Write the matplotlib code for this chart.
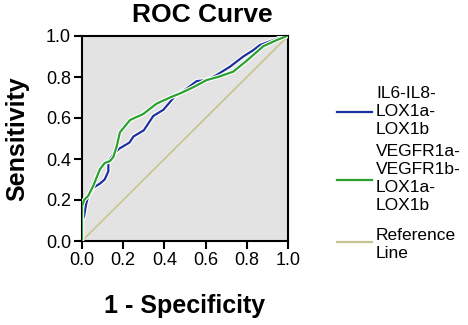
import matplotlib
matplotlib.use("Agg")
import matplotlib.pyplot as plt
import matplotlib.patheffects as pe
from matplotlib.lines import Line2D

plt.rcParams["font.family"] = ["Liberation Sans", "DejaVu Sans"]

# ROC points
fpr_il6 = [0.0, 0.0, 0.01, 0.02, 0.03, 0.055, 0.087, 0.11, 0.128, 0.128, 0.15, 0.18,
           0.23, 0.25, 0.30, 0.346, 0.395, 0.45, 0.51, 0.557, 0.605, 0.654, 0.718,
           0.783, 0.83, 0.864, 0.929, 0.985, 1.0]
tpr_il6 = [0.0, 0.10, 0.12, 0.18, 0.22, 0.26, 0.28, 0.30, 0.34, 0.39, 0.42, 0.45,
           0.48, 0.51, 0.54, 0.61, 0.64, 0.705, 0.745, 0.78, 0.785, 0.81, 0.85,
           0.90, 0.93, 0.956, 0.98, 1.0, 1.0]

fpr_vegf = [0.0, 0.0, 0.01, 0.03, 0.055, 0.087, 0.11, 0.136, 0.152, 0.168, 0.184,
            0.233, 0.298, 0.362, 0.427, 0.476, 0.54, 0.605, 0.66, 0.734, 0.80, 0.88,
            0.945, 0.994, 1.0]
tpr_vegf = [0.0, 0.17, 0.20, 0.22, 0.27, 0.35, 0.38, 0.39, 0.41, 0.46, 0.53,
            0.59, 0.62, 0.67, 0.70, 0.72, 0.75, 0.785, 0.80, 0.826, 0.88, 0.95,
            0.98, 1.0, 1.0]

ref_x = [0.0, 1.0]
ref_y = [0.0, 1.0]

labels = ["IL6-IL8-\nLOX1a-\nLOX1b",
          "VEGFR1a-\nVEGFR1b-\nLOX1a-\nLOX1b",
          "Reference\nLine"]
colors = ["#1c2f9e", "#2aa12f", "#c9c48f"]
ticks = [0.0, 0.2, 0.4, 0.6, 0.8, 1.0]

W, H = 468, 325
fig = plt.figure(figsize=(W / 100, H / 100), dpi=100)
ax = fig.add_axes([82 / W, 1 - 241 / H, 206 / W, 205 / H])
ax.set_facecolor("#e3e3e3")

halo = [pe.Stroke(linewidth=3.2, foreground="white"), pe.Normal()]
ax.plot(ref_x, ref_y, color=colors[2], lw=1.2, zorder=2)
ax.plot(fpr_il6, tpr_il6, color=colors[0], lw=1.6, path_effects=halo, zorder=3)
ax.plot(fpr_vegf, tpr_vegf, color=colors[1], lw=1.6, path_effects=halo, zorder=4)

ax.set_xlim(0, 1)
ax.set_ylim(0, 1)
ax.set_xticks(ticks)
ax.set_yticks(ticks)
ax.set_xticklabels([f"{t:.1f}" for t in ticks])
ax.set_yticklabels([f"{t:.1f}" for t in ticks])
ax.tick_params(direction="out", length=6, width=1.5, labelsize=13, pad=2)
for s in ax.spines.values():
    s.set_linewidth(1.5)

ax.set_xlabel("1 - Specificity", fontsize=18, fontweight="bold", labelpad=18)
ax.set_ylabel("Sensitivity", fontsize=18, fontweight="bold", labelpad=12)
fig.text(202 / W, 1 - 15 / H, "ROC Curve", fontsize=19, fontweight="bold",
         ha="center", va="center")

# legend drawn by hand, spacing in the reference is uneven
tops = [94, 151, 235]
keys_y = [112, 180, 242]
step = 18
for lab, c, top, ky in zip(labels, colors, tops, keys_y):
    fig.add_artist(Line2D([337 / W, 372 / W], [1 - ky / H, 1 - ky / H],
                          color=c, lw=1.6, transform=fig.transFigure))
    for i, part in enumerate(lab.split("\n")):
        fig.text(376 / W, 1 - (top + i * step) / H, part, fontsize=12.5,
                 ha="left", va="center")

fig.savefig("out.png", dpi=100)
